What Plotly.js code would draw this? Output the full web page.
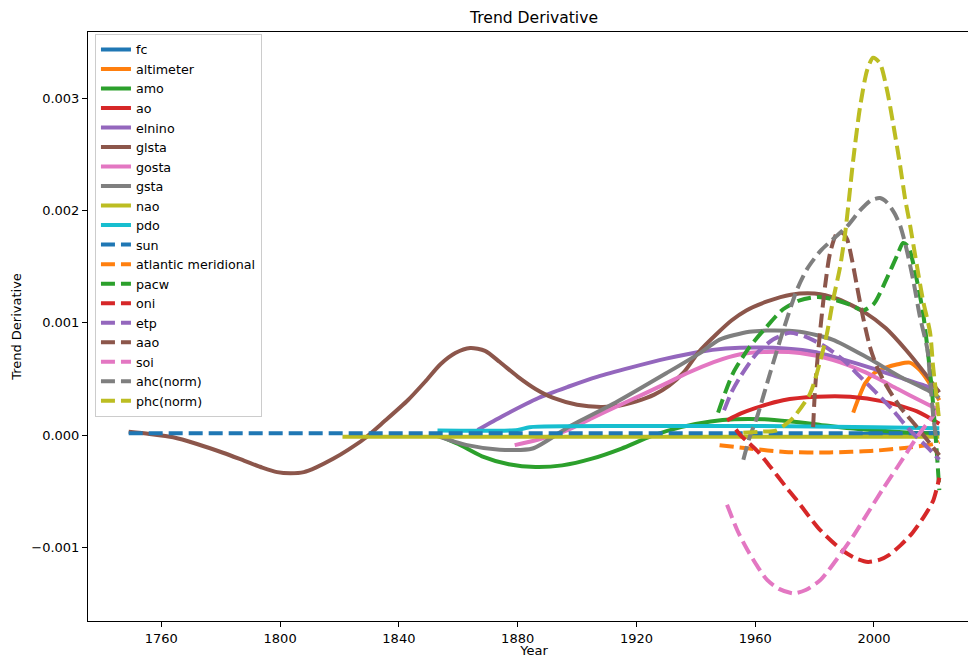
<!DOCTYPE html>
<html>
<head>
<meta charset="utf-8">
<script src="https://cdn.plot.ly/plotly-3.0.1.min.js"></script>
<style>
  html, body { margin: 0; padding: 0; overflow: hidden; background: #fff; }
  #chart { width: 1000px; height: 658px; }
</style>
</head>
<body>
<div id="chart"></div>
<script>
// Trend derivatives of climate indices (values are per-year rates)

const fcYear = [1995, 2005, 2015, 2022];
const fc = [0.01e-3, 0.012e-3, 0.015e-3, 0.02e-3];

const altimeterYear = [1993, 1995, 1997, 2000, 2004, 2008, 2012, 2015, 2018, 2020, 2022];
const altimeter = [0.20e-3, 0.34e-3, 0.46e-3, 0.55e-3, 0.60e-3, 0.63e-3, 0.645e-3, 0.59e-3, 0.49e-3, 0.40e-3, 0.31e-3];

const amoYear = [1853, 1860, 1868, 1877, 1886, 1895, 1905, 1915, 1925, 1935, 1945, 1953, 1963, 1972, 1982, 1992, 2002, 2012, 2022];
const amo = [0.0, -0.08e-3, -0.19e-3, -0.26e-3, -0.285e-3, -0.27e-3, -0.21e-3, -0.12e-3, -0.01e-3, 0.07e-3, 0.12e-3, 0.14e-3, 0.14e-3, 0.12e-3, 0.09e-3, 0.06e-3, 0.04e-3, 0.02e-3, 0.01e-3];

const aoYear = [1950.5, 1955, 1960, 1969.4, 1980.8, 1992, 2003, 2014.5, 2022];
const ao = [0.13e-3, 0.19e-3, 0.24e-3, 0.31e-3, 0.34e-3, 0.34e-3, 0.30e-3, 0.21e-3, 0.10e-3];

const elninoYear = [1866.5, 1875, 1887, 1897, 1907, 1918, 1930, 1941, 1950, 1960, 1970, 1980, 1990, 2000, 2010, 2017, 2022];
const elnino = [0.045e-3, 0.17e-3, 0.33e-3, 0.43e-3, 0.52e-3, 0.60e-3, 0.68e-3, 0.74e-3, 0.77e-3, 0.78e-3, 0.77e-3, 0.74e-3, 0.67e-3, 0.59e-3, 0.50e-3, 0.44e-3, 0.39e-3];

const glstaYear = [1749, 1756, 1764, 1772, 1781, 1788, 1794, 1799, 1803.5, 1808, 1812, 1818, 1823, 1828, 1835, 1843, 1849, 1854, 1859, 1864, 1869, 1874, 1880, 1886, 1892, 1900, 1908, 1914, 1920, 1926, 1931, 1936, 1941, 1947, 1952, 1957, 1964, 1972, 1980, 1988, 1997, 2004, 2011, 2018, 2022];
const glsta = [0.03e-3, 0.01e-3, -0.02e-3, -0.08e-3, -0.16e-3, -0.23e-3, -0.29e-3, -0.33e-3, -0.34e-3, -0.33e-3, -0.29e-3, -0.21e-3, -0.13e-3, -0.04e-3, 0.12e-3, 0.31e-3, 0.48e-3, 0.63e-3, 0.73e-3, 0.775e-3, 0.75e-3, 0.65e-3, 0.52e-3, 0.41e-3, 0.33e-3, 0.27e-3, 0.25e-3, 0.26e-3, 0.30e-3, 0.36e-3, 0.44e-3, 0.56e-3, 0.74e-3, 0.90e-3, 1.02e-3, 1.11e-3, 1.19e-3, 1.25e-3, 1.26e-3, 1.21e-3, 1.09e-3, 0.95e-3, 0.75e-3, 0.52e-3, 0.38e-3];

const gostaYear = [1879, 1887, 1897, 1905, 1913, 1922, 1930, 1937, 1946, 1955, 1964, 1975, 1986, 1997, 2008, 2016, 2022];
const gosta = [-0.09e-3, -0.04e-3, 0.045e-3, 0.15e-3, 0.25e-3, 0.36e-3, 0.46e-3, 0.55e-3, 0.65e-3, 0.72e-3, 0.74e-3, 0.73e-3, 0.67e-3, 0.56e-3, 0.41e-3, 0.30e-3, 0.22e-3];

const gstaYear = [1852, 1863, 1874, 1885, 1897, 1913, 1930, 1941.4, 1948, 1958, 1964, 1975, 1986, 1997.7, 2008.8, 2018, 2022];
const gsta = [0.0, -0.09e-3, -0.13e-3, -0.12e-3, 0.07e-3, 0.29e-3, 0.55e-3, 0.73e-3, 0.85e-3, 0.92e-3, 0.93e-3, 0.92e-3, 0.85e-3, 0.69e-3, 0.52e-3, 0.40e-3, 0.33e-3];

const naoYear = [1821, 1880, 1950, 2022];
const nao = [-0.015e-3, -0.015e-3, -0.015e-3, -0.015e-3];

const pdoYear = [1853, 1880, 1884, 1920, 1960, 2000, 2022];
const pdo = [0.04e-3, 0.045e-3, 0.07e-3, 0.08e-3, 0.08e-3, 0.07e-3, 0.06e-3];

const sunYear = [1749, 1850, 1950, 2022];
const sun = [0.015e-3, 0.015e-3, 0.015e-3, 0.015e-3];

const atlanticYear = [1948, 1958, 1970, 1985, 2000, 2012, 2020, 2022];
const atlantic = [-0.09e-3, -0.12e-3, -0.15e-3, -0.155e-3, -0.14e-3, -0.11e-3, -0.08e-3, -0.06e-3];

const pacwYear = [1947.5, 1952.5, 1958, 1963.7, 1969.4, 1975, 1981, 1986, 1992, 1996.3, 2000, 2004.4, 2007.8, 2009.8, 2011.5, 2013.2, 2016.5, 2019.5, 2021, 2022];
const pacw = [0.20e-3, 0.55e-3, 0.78e-3, 0.96e-3, 1.12e-3, 1.20e-3, 1.23e-3, 1.21e-3, 1.16e-3, 1.11e-3, 1.17e-3, 1.40e-3, 1.60e-3, 1.71e-3, 1.68e-3, 1.53e-3, 1.09e-3, 0.40e-3, -0.10e-3, -0.49e-3];

const oniYear = [1953.5, 1955, 1957, 1961, 1965, 1970, 1974, 1978, 1982, 1989, 1994, 1998, 2002, 2005, 2009, 2013, 2017, 2020, 2022];
const oni = [0.05e-3, 0.0, -0.05e-3, -0.15e-3, -0.28e-3, -0.45e-3, -0.58e-3, -0.72e-3, -0.85e-3, -1.02e-3, -1.10e-3, -1.13e-3, -1.11e-3, -1.07e-3, -0.98e-3, -0.87e-3, -0.72e-3, -0.58e-3, -0.38e-3];

const etpYear = [1949.5, 1952, 1955, 1960.6, 1966, 1971.7, 1977.5, 1984, 1989.6, 1995.3, 2001, 2006.4, 2012, 2018, 2022];
const etp = [0.22e-3, 0.38e-3, 0.52e-3, 0.73e-3, 0.85e-3, 0.91e-3, 0.87e-3, 0.78e-3, 0.67e-3, 0.52e-3, 0.37e-3, 0.22e-3, 0.045e-3, -0.11e-3, -0.22e-3];

const aaoYear = [1979.5, 1980.2, 1981.8, 1983.5, 1985.2, 1987.6, 1989.5, 1991, 1992.6, 1994.3, 1996.3, 1998.7, 2001.1, 2004.4, 2008.8, 2014.5, 2019.9, 2022];
const aao = [0.07e-3, 0.43e-3, 0.91e-3, 1.32e-3, 1.62e-3, 1.80e-3, 1.80e-3, 1.74e-3, 1.56e-3, 1.32e-3, 1.05e-3, 0.78e-3, 0.60e-3, 0.43e-3, 0.25e-3, 0.07e-3, -0.11e-3, -0.18e-3];

const soiYear = [1950.5, 1954, 1957.3, 1961, 1964, 1968, 1973, 1977, 1982, 1989, 1993, 1998, 2003, 2008, 2015.5, 2022];
const soi = [-0.62e-3, -0.85e-3, -1.02e-3, -1.18e-3, -1.29e-3, -1.37e-3, -1.41e-3, -1.38e-3, -1.29e-3, -1.05e-3, -0.90e-3, -0.69e-3, -0.48e-3, -0.28e-3, 0.02e-3, 0.24e-3];

const ahcYear = [1956, 1958, 1960.6, 1965, 1969.4, 1974, 1977.5, 1982, 1986, 1991, 1995.3, 1999, 2002, 2004.4, 2007, 2009, 2011, 2013.2, 2015.5, 2018, 2019, 2020, 2021];
const ahc = [-0.22e-3, -0.03e-3, 0.16e-3, 0.55e-3, 0.93e-3, 1.29e-3, 1.48e-3, 1.64e-3, 1.74e-3, 1.86e-3, 2.0e-3, 2.09e-3, 2.11e-3, 2.07e-3, 1.97e-3, 1.85e-3, 1.65e-3, 1.38e-3, 1.05e-3, 0.76e-3, 0.46e-3, 0.16e-3, -0.04e-3];

const phcYear = [1956, 1962, 1967, 1970, 1973, 1978.5, 1982, 1984.2, 1986.2, 1988.6, 1990.3, 1991.5, 1993, 1995.3, 1997.7, 1999.7, 2002, 2004.4, 2006.4, 2008.8, 2010.5, 2012.2, 2014.5, 2016.5, 2018.9, 2019.9, 2021.2, 2022];
const phc = [0.02e-3, 0.03e-3, 0.04e-3, 0.09e-3, 0.16e-3, 0.37e-3, 0.67e-3, 0.91e-3, 1.20e-3, 1.50e-3, 1.80e-3, 2.08e-3, 2.45e-3, 2.92e-3, 3.25e-3, 3.36e-3, 3.31e-3, 3.07e-3, 2.78e-3, 2.40e-3, 2.10e-3, 1.86e-3, 1.50e-3, 1.20e-3, 0.91e-3, 0.61e-3, 0.31e-3, 0.12e-3];

const xTicks = [1760, 1800, 1840, 1880, 1920, 1960, 2000];
const yTicks = [-0.001, 0, 0.001, 0.002, 0.003];
const yTickText = ['\u22120.001', '0.000', '0.001', '0.002', '0.003'];

// name, x, y, colour, dashed
const series = [
  ['fc', fcYear, fc, '#1f77b4', false],
  ['altimeter', altimeterYear, altimeter, '#ff7f0e', false],
  ['amo', amoYear, amo, '#2ca02c', false],
  ['ao', aoYear, ao, '#d62728', false],
  ['elnino', elninoYear, elnino, '#9467bd', false],
  ['glsta', glstaYear, glsta, '#8c564b', false],
  ['gosta', gostaYear, gosta, '#e377c2', false],
  ['gsta', gstaYear, gsta, '#7f7f7f', false],
  ['nao', naoYear, nao, '#bcbd22', false],
  ['pdo', pdoYear, pdo, '#17becf', false],
  ['sun', sunYear, sun, '#1f77b4', true],
  ['atlantic meridional', atlanticYear, atlantic, '#ff7f0e', true],
  ['pacw', pacwYear, pacw, '#2ca02c', true],
  ['oni', oniYear, oni, '#d62728', true],
  ['etp', etpYear, etp, '#9467bd', true],
  ['aao', aaoYear, aao, '#8c564b', true],
  ['soi', soiYear, soi, '#e377c2', true],
  ['ahc(norm)', ahcYear, ahc, '#7f7f7f', true],
  ['phc(norm)', phcYear, phc, '#bcbd22', true]
];

const traces = series.map(([name, x, y, color, dashed]) => ({
  type: 'scatter',
  mode: 'lines',
  name: name,
  x: x,
  y: y,
  line: {
    color: color,
    width: 4,
    dash: dashed ? '14px,6px' : 'solid',
    shape: x.length > 4 ? 'spline' : 'linear',
    smoothing: 0.7
  },
  hoverinfo: 'skip'
}));

const font = 'DejaVu Sans, sans-serif';

const layout = {
  width: 1000,
  height: 658,
  margin: { l: 88, r: 20, t: 32, b: 37, pad: 0 },
  paper_bgcolor: '#ffffff',
  plot_bgcolor: '#ffffff',
  font: { family: font, size: 13, color: '#000000' },
  showlegend: true,
  title: {
    text: 'Trend Derivative',
    font: { family: font, size: 15.6, color: '#000000' },
    xref: 'paper', x: 0.5, xanchor: 'center',
    yref: 'container', y: 0.974, yanchor: 'middle'
  },
  xaxis: {
    range: [1735.3, 2035.7],
    tickmode: 'array',
    tickvals: xTicks,
    ticktext: xTicks.map(String),
    ticks: 'outside', ticklen: 5, tickwidth: 1, tickcolor: '#000000',
    showline: true, linecolor: '#000000', linewidth: 1, mirror: true,
    showgrid: false, zeroline: false,
    tickfont: { family: font, size: 13, color: '#000000' },
    title: { text: 'Year', font: { family: font, size: 13, color: '#000000' }, standoff: 4 },
    automargin: false
  },
  yaxis: {
    range: [-0.001656, 0.003589],
    tickmode: 'array',
    tickvals: yTicks,
    ticktext: yTickText,
    ticks: 'outside', ticklen: 5, tickwidth: 1, tickcolor: '#000000',
    showline: true, linecolor: '#000000', linewidth: 1, mirror: true,
    showgrid: false, zeroline: false,
    tickfont: { family: font, size: 13, color: '#000000' },
    title: { text: 'Trend Derivative', font: { family: font, size: 13, color: '#000000' }, standoff: 6 },
    automargin: false
  },
  legend: {
    x: 0.0078, y: 0.997, xanchor: 'left', yanchor: 'top',
    bgcolor: 'rgba(255,255,255,0.8)',
    bordercolor: '#cccccc', borderwidth: 1,
    font: { family: font, size: 12.7, color: '#000000' },
    tracegroupgap: 0
  }
};

Plotly.newPlot('chart', traces, layout, { displayModeBar: false, staticPlot: true });
</script>
</body>
</html>
